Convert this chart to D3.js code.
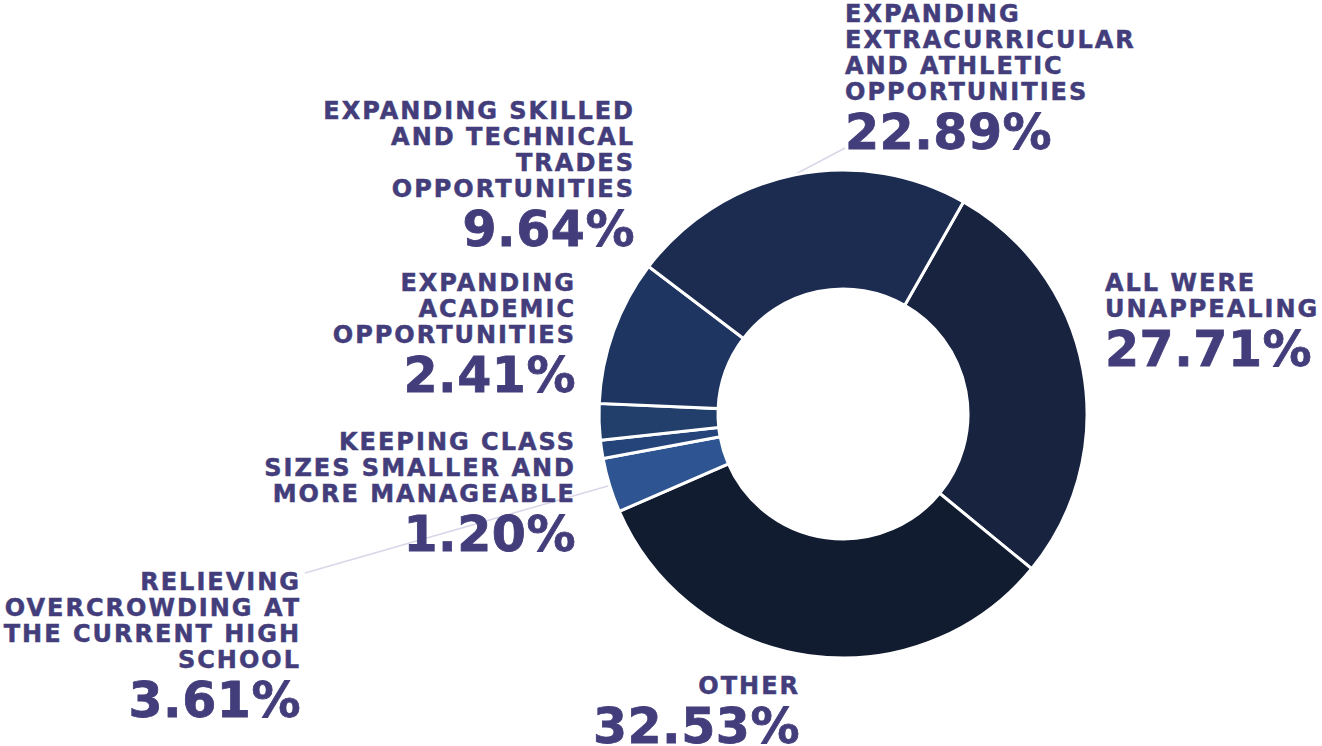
<!DOCTYPE html>
<html><head><meta charset="utf-8">
<script src="https://cdn.jsdelivr.net/npm/d3@7"></script>
<style>
html,body{margin:0;padding:0;background:#fff;}
svg{display:block;}
text{font-family:"DejaVu Sans",sans-serif;font-weight:bold;fill:#433e7b;stroke:#433e7b;}
</style></head>
<body>
<svg id="chart" width="1322" height="746"></svg>
<script>
const categories = [
  "All were unappealing",
  "Other",
  "Relieving overcrowding at the current high school",
  "Keeping class sizes smaller and more manageable",
  "Expanding academic opportunities",
  "Expanding skilled and technical trades opportunities",
  "Expanding extracurricular and athletic opportunities"
];
const values = [27.71, 32.53, 3.61, 1.20, 2.41, 9.64, 22.89];
const valueLabels = ["27.71%", "32.53%", "3.61%", "1.20%", "2.41%", "9.64%", "22.89%"];
const labelLines = [
  ["ALL WERE", "UNAPPEALING"],
  ["OTHER"],
  ["RELIEVING", "OVERCROWDING AT", "THE CURRENT HIGH", "SCHOOL"],
  ["KEEPING CLASS", "SIZES SMALLER AND", "MORE MANAGEABLE"],
  ["EXPANDING", "ACADEMIC", "OPPORTUNITIES"],
  ["EXPANDING SKILLED", "AND TECHNICAL", "TRADES", "OPPORTUNITIES"],
  ["EXPANDING", "EXTRACURRICULAR", "AND ATHLETIC", "OPPORTUNITIES"]
];
const colors = ["#17233f", "#121c30", "#2e5592", "#25447a", "#223f6b", "#1e3561", "#1b2c50"];

// layout (positions only)
const cx = 843, cy = 414, rOuter = 244, rInner = 125;
const startDeg = 29.6;
const labelPos = [
  {x: 1105, y: 291, anchor: "start"},
  {x: 800, y: 694, anchor: "end"},
  {x: 301, y: 590, anchor: "end"},
  {x: 576, y: 450, anchor: "end"},
  {x: 576, y: 291, anchor: "end"},
  {x: 635, y: 119, anchor: "end"},
  {x: 845, y: 22, anchor: "start"}
];
const connectors = [null, null, {x: 305, y: 573}, null, null, null, {x: 845, y: 148}];
const lineStep = 26, pctGap = 49;

const svg = d3.select("#chart");
const g = svg.append("g").attr("transform", `translate(${cx},${cy})`);

const data = categories.map((c, i) => ({cat: c, value: values[i], i}));
const start = startDeg * Math.PI / 180;
const pie = d3.pie().value(d => d.value).sort(null)
  .startAngle(start).endAngle(start + 2 * Math.PI);
const arcs = pie(data);
const arc = d3.arc().innerRadius(rInner).outerRadius(rOuter);

// connectors
arcs.forEach(a => {
  const c = connectors[a.data.i];
  if (!c) return;
  const m = (a.startAngle + a.endAngle) / 2;
  const px = cx + rOuter * Math.sin(m), py = cy - rOuter * Math.cos(m);
  svg.insert("line", "g").attr("x1", px).attr("y1", py).attr("x2", c.x).attr("y2", c.y)
    .attr("stroke", "#d9d7e8").attr("stroke-width", 1.6);
});

g.selectAll("path").data(arcs).join("path")
  .attr("d", arc)
  .attr("fill", d => colors[d.data.i])
  .attr("stroke", "#fff").attr("stroke-width", 3).attr("stroke-linejoin", "miter");

// labels
labelLines.forEach((lines, i) => {
  const p = labelPos[i];
  const lg = svg.append("g");
  lines.forEach((ln, k) => {
    lg.append("text").attr("x", p.x).attr("y", p.y + k * lineStep)
      .attr("text-anchor", p.anchor)
      .style("font-size", "24px").style("letter-spacing", "2px")
      .style("stroke-width", "0.5px")
      .text(ln);
  });
  const lastY = p.y + (lines.length - 1) * lineStep;
  lg.append("text").attr("x", p.x).attr("y", lastY + pctGap)
    .attr("text-anchor", p.anchor)
    .style("font-size", "49px").style("letter-spacing", "0.5px")
    .style("stroke-width", "0.8px")
    .text(valueLabels[i]);
});
</script>
</body></html>
